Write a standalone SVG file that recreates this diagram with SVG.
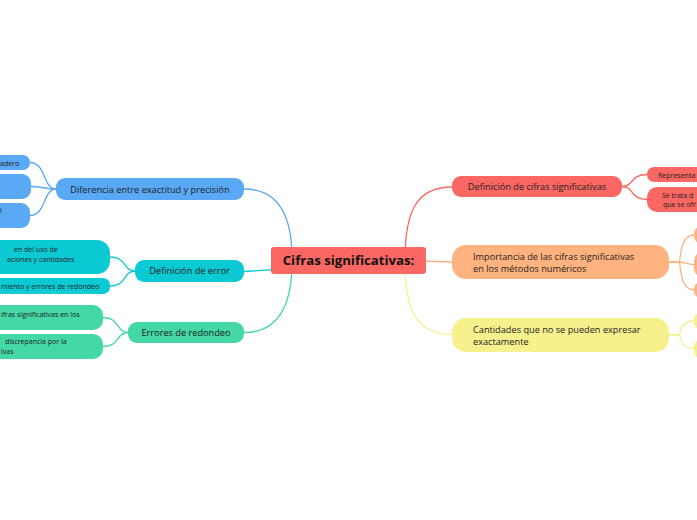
<svg xmlns="http://www.w3.org/2000/svg" width="697" height="520" viewBox="0 0 697 520">
<style>
text{font-family:"Open Sans","Noto Sans","Liberation Sans",sans-serif;fill:#222}
.c{fill:none;stroke-width:1.3}
.main{font-size:9.2px}
.sub{font-size:7px}
.root{font-size:13.2px;font-weight:bold;fill:#111}
.red{fill:#FB6762}.blue{fill:#59A9F5}.teal{fill:#0BCAD4}.green{fill:#43D8A5}.orange{fill:#FFB37F}.yellow{fill:#F6F18C}
.sred{stroke:#FB6762}.sblue{stroke:#59A9F5}.steal{stroke:#0BCAD4}.sgreen{stroke:#43D8A5}.sorange{stroke:#FFB37F}.syellow{stroke:#F6F18C}
</style>
<rect width="697" height="520" fill="#ffffff"/>
<g id="connectors">
<path class="c sblue" d="M244 189 C276 189 292 212 292 258"/>
<path class="c steal" d="M244 271.5 L300 268"/>
<path class="c sgreen" d="M244 332.5 C276 332.5 292 308 292 262"/>
<path class="c sred" d="M405 260 C405 212 416 187 452 187"/>
<path class="c sorange" d="M420 261 L452 262"/>
<path class="c syellow" d="M405 262 C405 310 416 334.5 452 334.5"/>
<path class="c sblue" d="M56 189 C43 189 46 162.5 30 162.5"/>
<path class="c sblue" d="M56 189 C45 189 42 186.5 31 186.5"/>
<path class="c sblue" d="M56 189 C43 189 46 215.5 30 215.5"/>
<path class="c steal" d="M135 271 C123 271 127 257 110 257"/>
<path class="c steal" d="M135 271 C123 271 127 286 110 286"/>
<path class="c sgreen" d="M128 332.5 C116 332.5 120 317.5 103 317.5"/>
<path class="c sgreen" d="M128 332.5 C116 332.5 120 346.5 103 346.5"/>
<path class="c sred" d="M622 186.5 C634 186.5 630 174.5 647 174.5"/>
<path class="c sred" d="M622 186.5 C634 186.5 630 199.5 647 199.5"/>
<path class="c sorange" d="M669 262 L679 262 C681 262 679 235 694 235"/>
<path class="c sorange" d="M669 262 L679 262 C684 262 688 264.5 694 264.5"/>
<path class="c sorange" d="M669 262 L679 262 C681 262 679 290 694 290"/>
<path class="c syellow" d="M669 335 L679 335 C681 335 679 321 694 321"/>
<path class="c syellow" d="M669 335 L679 335 C681 335 679 348.5 694 348.5"/>
</g>
<g id="root">
<rect x="271" y="247" width="155" height="27" rx="3" class="red"/>
<text x="348.5" y="265.2" text-anchor="middle" class="root">Cifras significativas:</text>
</g>
<g id="n-diferencia">
<rect x="56" y="178" width="188" height="22" rx="9" class="blue"/>
<text x="150" y="192.5" text-anchor="middle" class="main">Diferencia entre exactitud y precisión</text>
</g>
<g id="n-dif-1">
<rect x="-60" y="155" width="90" height="15" rx="7" class="blue"/>
<text x="0" y="165.5" class="sub">adero</text>
</g>
<g id="n-dif-2">
<rect x="-60" y="174" width="91" height="25" rx="9" class="blue"/>
</g>
<g id="n-dif-3">
<rect x="-60" y="203" width="90" height="25" rx="9" class="blue"/>
<text x="0" y="213" class="sub">l</text>
</g>
<g id="n-error">
<rect x="135" y="260" width="109" height="22" rx="9" class="teal"/>
<text x="189.5" y="274.3" text-anchor="middle" class="main">Definición de error</text>
</g>
<g id="n-err-1">
<rect x="-60" y="240" width="170" height="34" rx="13" class="teal"/>
<text x="14" y="252" class="sub">en del uso de</text>
<text x="7" y="262" class="sub">aciones y cantidades</text>
</g>
<g id="n-err-2">
<rect x="-60" y="278" width="170" height="16" rx="7" class="teal"/>
<text x="1" y="289" class="sub">miento y errores de redondeo</text>
</g>
<g id="n-redondeo">
<rect x="128" y="322" width="116" height="21" rx="9" class="green"/>
<text x="186" y="335.8" text-anchor="middle" class="main">Errores de redondeo</text>
</g>
<g id="n-red-1">
<rect x="-60" y="305" width="163" height="25" rx="10" class="green"/>
<text x="1" y="316.5" class="sub">ifras significativas en los</text>
</g>
<g id="n-red-2">
<rect x="-60" y="334" width="163" height="25" rx="10" class="green"/>
<text x="5" y="344" class="sub">discrepancia por la</text>
<text x="1" y="354" class="sub">ivas</text>
</g>
<g id="n-definicion">
<rect x="452" y="176" width="170" height="21" rx="9" class="red"/>
<text x="537" y="189.8" text-anchor="middle" class="main">Definición de cifras significativas</text>
</g>
<g id="n-def-1">
<rect x="647" y="167" width="90" height="15" rx="7" class="red"/>
<text x="658" y="177.5" class="sub">Representa</text>
</g>
<g id="n-def-2">
<rect x="647" y="187" width="90" height="25" rx="10" class="red"/>
<text x="662" y="197.5" class="sub">Se trata d</text>
<text x="663" y="207" class="sub">que se ofr</text>
</g>
<g id="n-importancia">
<rect x="452" y="245" width="217" height="34" rx="14" class="orange"/>
<text x="473" y="259.5" class="main">Importancia de las cifras significativas</text>
<text x="473" y="271.5" class="main">en los métodos numéricos</text>
</g>
<g id="n-imp-1"><rect x="694" y="226" width="60" height="18" rx="8" class="orange"/></g>
<g id="n-imp-2"><rect x="694" y="251" width="60" height="27" rx="10" class="orange"/></g>
<g id="n-imp-3"><rect x="694" y="282" width="60" height="16" rx="7" class="orange"/></g>
<g id="n-cantidades">
<rect x="452" y="318" width="217" height="34" rx="14" class="yellow"/>
<text x="473" y="332.5" class="main">Cantidades que no se pueden expresar</text>
<text x="473" y="344.5" class="main">exactamente</text>
</g>
<g id="n-can-1"><rect x="694" y="312" width="60" height="18" rx="8" class="yellow"/></g>
<g id="n-can-2"><rect x="694" y="339" width="60" height="20" rx="8" class="yellow"/></g>
</svg>
